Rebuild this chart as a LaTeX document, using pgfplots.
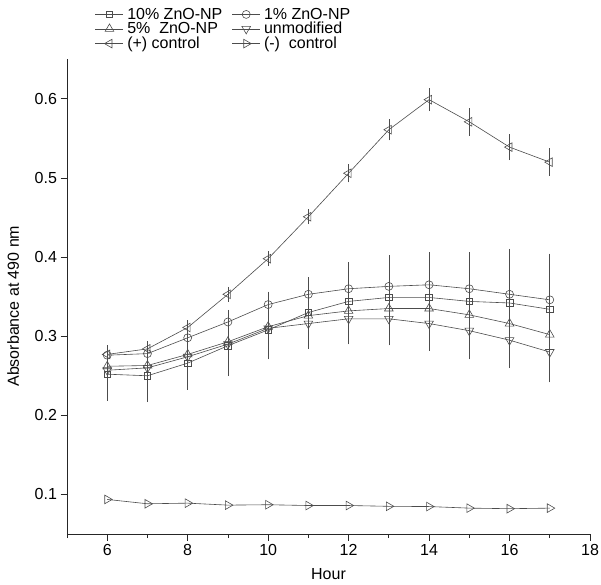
\documentclass[border=0pt]{standalone}
\usepackage{fontspec}
\setmainfont{Liberation Sans}
\usepackage{pgfplots}
\pgfplotsset{compat=1.18}
\usepackage{pgfplotstable}

\pgfplotstableread{
x y e
6 0.252 0.029
7 0.250 0.029
8 0.266 0.029
9 0.288 0.034
10 0.308 0.033
11 0.330 0.040
12 0.344 0.045
13 0.349 0.049
14 0.349 0.053
15 0.344 0.058
16 0.342 0.064
17 0.334 0.066
}\tenpct

\pgfplotstableread{
x y e
6 0.276 0.008
7 0.278 0.008
8 0.298 0.010
9 0.318 0.011
10 0.340 0.012
11 0.353 0.016
12 0.360 0.018
13 0.363 0.021
14 0.365 0.024
15 0.360 0.026
16 0.353 0.028
17 0.346 0.028
}\onepct

\pgfplotstableread{
x y e
6 0.262 0.006
7 0.263 0.006
8 0.277 0.008
9 0.293 0.008
10 0.312 0.008
11 0.326 0.008
12 0.332 0.008
13 0.335 0.008
14 0.335 0.009
15 0.327 0.010
16 0.316 0.012
17 0.302 0.014
}\fivepct

\pgfplotstableread{
x y e
6 0.257 0.017
7 0.260 0.018
8 0.274 0.020
9 0.290 0.022
10 0.310 0.027
11 0.316 0.028
12 0.322 0.028
13 0.322 0.029
14 0.316 0.030
15 0.307 0.032
16 0.295 0.031
17 0.280 0.034
}\unmod

\pgfplotstableread{
x y e
6 0.277 0.005
7 0.284 0.005
8 0.311 0.005
9 0.353 0.005
10 0.398 0.005
11 0.451 0.005
12 0.506 0.007
13 0.561 0.009
14 0.599 0.010
15 0.571 0.013
16 0.539 0.012
17 0.520 0.013
}\poscontrol

\pgfplotstableread{
x y
6 0.0937
7 0.0882
8 0.0890
9 0.0865
10 0.0870
11 0.0860
12 0.0860
13 0.0850
14 0.0847
15 0.0827
16 0.0820
17 0.0827
}\negcontrol

\definecolor{linec}{gray}{0.3}
\newcommand{\chfont}{\fontsize{16}{19}\selectfont}

\begin{document}
\begin{tikzpicture}[font=\chfont]
\path[use as bounding box] (-67pt,-50pt) rectangle (534pt,534pt);
\begin{axis}[
  at={(0pt,0pt)}, anchor=south west,
  scale only axis, width=523pt, height=474.7pt,
  font=\chfont,
  xmin=5, xmax=18, ymin=0.05, ymax=0.65,
  axis lines*=left,
  axis line style={black!85, line width=0.8pt},
  tick align=outside,
  xtick={6,8,10,12,14,16,18},
  minor xtick={5,7,9,11,13,15,17},
  ytick={0.1,0.2,0.3,0.4,0.5,0.6},
  major tick length=6.5pt, minor tick length=4pt,
  every tick/.style={black!85, line width=0.8pt},
  /pgf/number format/assume math mode=true,
  tick label style={font=\chfont},
  yticklabel style={/pgf/number format/fixed, /pgf/number format/precision=1},
  xlabel={Hour}, ylabel={Absorbance at 490 nm},
  label style={font=\chfont},
  xlabel style={at={(axis description cs:0.5,-0.084)}, anchor=center},
  ylabel style={at={(axis description cs:-0.103,0.48)}, anchor=center},
  legend columns=2,
  legend style={draw=none, fill=none, inner sep=0pt, font=\chfont,
    at={(axis description cs:0.0535,1.11)}, anchor=north west,
    nodes={inner xsep=3.5pt, inner ysep=0.8pt},
    /tikz/every even column/.append style={column sep=6pt}},
  legend image code/.code={\draw[mark repeat=2, mark phase=2] plot coordinates {(0pt,0pt) (14pt,0pt) (28pt,0pt)};},
  legend cell align=left,
  error bars/error bar style={linec, line width=0.6pt},
  error bars/error mark options={linec, mark size=3.5pt, line width=0.6pt},
]
\addplot[linec, line width=0.6pt, mark=square, mark size=3.3pt, mark options={solid, fill=white}, error bars/.cd, y dir=both, y explicit] table[x=x, y=y, y error=e] {\tenpct};
\addlegendentry{10\% ZnO-NP}
\addplot[linec, line width=0.6pt, mark=o, mark size=4pt, mark options={solid, fill=white}, error bars/.cd, y dir=both, y explicit] table[x=x, y=y, y error=e] {\onepct};
\addlegendentry{1\% ZnO-NP}
\addplot[linec, line width=0.6pt, mark=triangle, mark size=5pt, mark options={solid, fill=white}, error bars/.cd, y dir=both, y explicit] table[x=x, y=y, y error=e] {\fivepct};
\addlegendentry{5\%~~ZnO-NP}
\addplot[linec, line width=0.6pt, mark=triangle, mark size=5pt, mark options={solid, fill=white, rotate=180}, error bars/.cd, y dir=both, y explicit] table[x=x, y=y, y error=e] {\unmod};
\addlegendentry{unmodified}
\addplot[linec, line width=0.6pt, mark=triangle, mark size=5pt, mark options={solid, fill=white, rotate=90}, error bars/.cd, y dir=both, y explicit] table[x=x, y=y, y error=e] {\poscontrol};
\addlegendentry{(+) control}
\addplot[linec, line width=0.6pt, mark=triangle, mark size=5pt, mark options={solid, fill=white, rotate=-90}] table[x=x, y=y] {\negcontrol};
\addlegendentry{(-)~~control}
\end{axis}
\end{tikzpicture}
\end{document}
